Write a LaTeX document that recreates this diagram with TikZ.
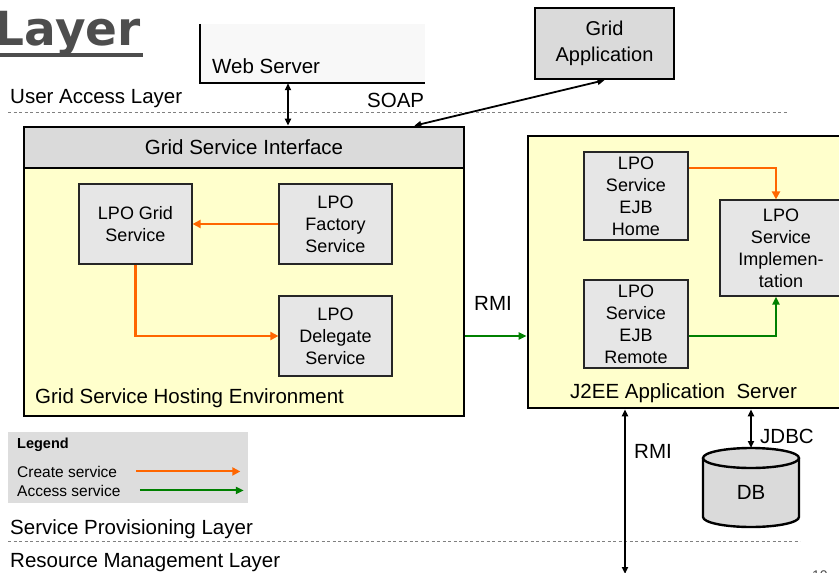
\documentclass[tikz,border=0pt]{standalone}
\usepackage{fontspec}
\setmainfont{Liberation Sans}
\newfontfamily\titlefont{DejaVu Sans}
\usetikzlibrary{arrows.meta}
\definecolor{paleyellow}{HTML}{FFFFCC}
\definecolor{boxgray}{HTML}{E6E6E6}
\definecolor{hdrgray}{HTML}{DADADA}
\definecolor{legendgray}{HTML}{DDDDDD}
\definecolor{webgray}{HTML}{F8F8F8}
\definecolor{titlegray}{HTML}{4D4D4D}
\definecolor{createorange}{HTML}{FF6600}
\definecolor{accessgreen}{HTML}{008000}
\begin{document}
\begin{tikzpicture}[x=1pt,y=-1pt,
  lbl/.style={inner sep=0pt,anchor=base west,font=\fontsize{20.5}{24}\selectfont},
  smalllbl/.style={inner sep=0pt,anchor=base west,font=\fontsize{15.5}{18}\selectfont},
  envbox/.style={draw,line width=2.6pt,fill=paleyellow,inner sep=0pt},
  svcbox/.style={draw=black!85,line width=1.2pt,fill=boxgray,align=center,inner sep=0pt,
    minimum width=113pt,minimum height=80pt,font=\fontsize{18}{22}\selectfont},
  ejbbox/.style={svcbox,minimum width=104pt,minimum height=88pt},
  layerline/.style={gray,line width=0.9pt,dash pattern=on 3pt off 2.5pt},
  create/.style={createorange,line width=2.2pt,-{Triangle[length=8pt,width=8pt]}},
  access/.style={accessgreen,line width=2pt,-{Triangle[length=8pt,width=7pt]}},
  link/.style={line width=1.8pt,{Triangle[length=7pt,width=6pt]}-{Triangle[length=7pt,width=6pt]}}]
\useasboundingbox (0,0) rectangle (839,573);

\node[titlegray,inner sep=0pt,anchor=base east,font={\titlefont\bfseries\fontsize{47}{50}\selectfont}] (title) at (141,45) {Layer};
\draw[titlegray,line width=3.5pt] (0,55) -- (143,55);

\node[fill=webgray,minimum width=225pt,minimum height=59pt,inner sep=0pt] (web) at (312.5,53.5) {};
\draw[line width=2pt] (web.north west) -- (web.south west) -- (web.south east);
\node[lbl] (weblbl) at (212,73) {Web Server};

\node[draw,line width=2.4pt,fill=hdrgray,minimum width=139pt,minimum height=71pt,align=center,
  inner sep=0pt,font=\fontsize{20}{26}\selectfont] (gridapp) at (604.5,43.5) {Grid\\Application};

\draw[layerline] (8,112) -- (788,112);
\draw[layerline] (8,541) -- (800,541);
\node[lbl] (ualbl) at (10,103) {User Access Layer};
\node[lbl] (soaplbl) at (367,107) {SOAP};
\node[lbl] (splbl) at (10,534) {Service Provisioning Layer};
\node[lbl] (rmlbl) at (10,567) {Resource Management Layer};

\node[envbox,minimum width=440pt,minimum height=248pt] (gshe) at (244,292) {};
\node[envbox,fill=hdrgray,minimum width=440pt,minimum height=41pt,font=\fontsize{20.5}{24}\selectfont] (gsi) at (244,147.5) {Grid Service Interface};
\node[lbl] (gshelbl) at (35,403) {Grid Service Hosting Environment};

\node[svcbox] (lpogrid) at (135.5,224) {LPO Grid\\Service};
\node[svcbox] (factory) at (335.5,224) {LPO\\Factory\\Service};
\node[svcbox] (delegate) at (335.5,336) {LPO\\Delegate\\Service};

\node[envbox,minimum width=330pt,minimum height=272pt] (j2ee) at (693,272) {};
\node[lbl] (j2eelbl) at (570,398) {J2EE Application\ \ Server};
\node[ejbbox] (home) at (636,196) {LPO\\Service\\EJB\\Home};
\node[ejbbox] (remote) at (636,324) {LPO\\Service\\EJB\\Remote};
\node[svcbox,minimum width=122pt,minimum height=96pt] (impl) at (781,248) {LPO\\Service\\Implemen-\\tation};

\draw[create] (factory.west) -- (lpogrid.east);
\draw[create] (lpogrid.south) |- (delegate.west);
\draw[create] ([yshift=28pt]home.east) -| ([xshift=-5pt]impl.north);
\draw[access] ([yshift=-12pt]remote.east) -| ([xshift=-5pt]impl.south);
\draw[access] (gshe.east |- delegate.west) -- (j2ee.west |- delegate.west);
\node[lbl] (rmilbl) at (474,310) {RMI};

\coordinate (wsx) at (288,0);
\draw[link] (web.south -| wsx) -- (gsi.north -| wsx);
\draw[link] ([xshift=-51pt]gsi.north east) -- (gridapp.south);

\draw[line width=2.4pt,fill=hdrgray] (703,458) -- (703,517)
  arc[start angle=180,end angle=360,x radius=48pt,y radius=10pt] -- (799,458);
\draw[line width=2.4pt,fill=hdrgray] (751,458) ellipse[x radius=48pt,y radius=10pt];
\node[font=\fontsize{20.5}{24}\selectfont,inner sep=0pt] (db) at (751,492) {DB};
\coordinate (dbtop) at (751,448);
\coordinate (rmiend) at (625,574);
\draw[link] (j2ee.south -| dbtop) -- (dbtop);
\draw[link] (j2ee.south -| rmiend) -- (rmiend);
\node[lbl] (jdbclbl) at (760,443) {JDBC};
\node[lbl] (rmilow) at (634,458) {RMI};

\node[fill=legendgray,minimum width=240pt,minimum height=71pt,inner sep=0pt] (legend) at (128,467.5) {};
\node[smalllbl,font=\bfseries\fontsize{14.5}{17}\selectfont] (legendlbl) at (17,448) {Legend};
\node[smalllbl] (crlab) at (17,477) {Create service};
\node[smalllbl] (aclab) at (17,496) {Access service};
\draw[create,line width=2pt] ([xshift=19pt]crlab.east) -- ++(104,0);
\draw[access,line width=2pt] ([xshift=19pt]aclab.east) -- ++(104,0);

\node[lbl,font=\fontsize{14}{16}\selectfont,black!70] (pgnum) at (812,580) {10};
\end{tikzpicture}
\end{document}
